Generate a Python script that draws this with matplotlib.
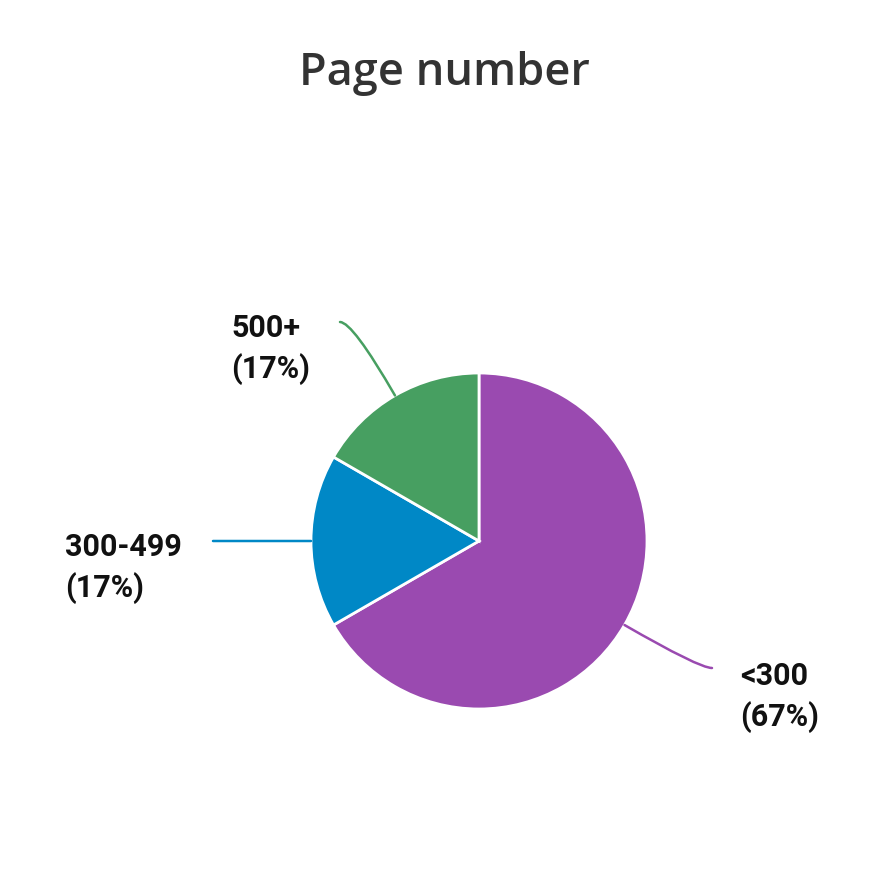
import matplotlib
matplotlib.use("Agg")
import matplotlib.pyplot as plt
import numpy as np

# data
labels = ["<300", "300-499", "500+"]
counts = [4, 1, 1]
colors = ["#9a4ab0", "#0088c6", "#479f61"]

# layout, in pixels of the 872x872 canvas (y measured from the top)
W = 872
cx, cy, r = 479, 541, 168
line_ends = [(712, 668), (213, 541), (340, 322)]
label_pos = [(740, 697), (65, 568), (231, 349)]

fig = plt.figure(figsize=(8.72, 8.72), dpi=100)
ax = fig.add_axes([0, 0, 1, 1])

wedges, _ = ax.pie(counts, colors=colors, startangle=90, counterclock=False,
                   center=(cx, W - cy), radius=r,
                   wedgeprops=dict(edgecolor="white", linewidth=2))
# pie() resets the limits, so set them afterwards
ax.set_xlim(0, W)
ax.set_ylim(0, W)
ax.set_aspect("equal")
ax.axis("off")

total = sum(counts)
for w, c, n, lab, end, pos in zip(wedges, colors, counts, labels, line_ends, label_pos):
    mid = np.deg2rad((w.theta1 + w.theta2) / 2)
    edge = (cx + r * np.cos(mid), W - cy + r * np.sin(mid))
    if abs(np.sin(mid)) < 0.05:
        style = "arc3,rad=0"
    else:
        style = "angle3,angleA=0,angleB=%.1f" % np.rad2deg(mid)
    ax.annotate("", xy=edge, xytext=(end[0], W - end[1]),
                arrowprops=dict(arrowstyle="-", color=c, lw=1.8,
                                shrinkA=0, shrinkB=0, connectionstyle=style))
    pct = round(100 * n / total)
    ax.text(pos[0], W - pos[1], "%s\n(%d%%)" % (lab, pct), ha="left", va="center",
            fontsize=22, fontweight="bold", family="Roboto", color="#111111",
            linespacing=1.4)

ax.text(444, W - 74, "Page number", ha="center", va="center", fontsize=32.5,
        fontweight="semibold", family="Open Sans", color="#333333")

fig.savefig("out.png", dpi=100, facecolor="white")
